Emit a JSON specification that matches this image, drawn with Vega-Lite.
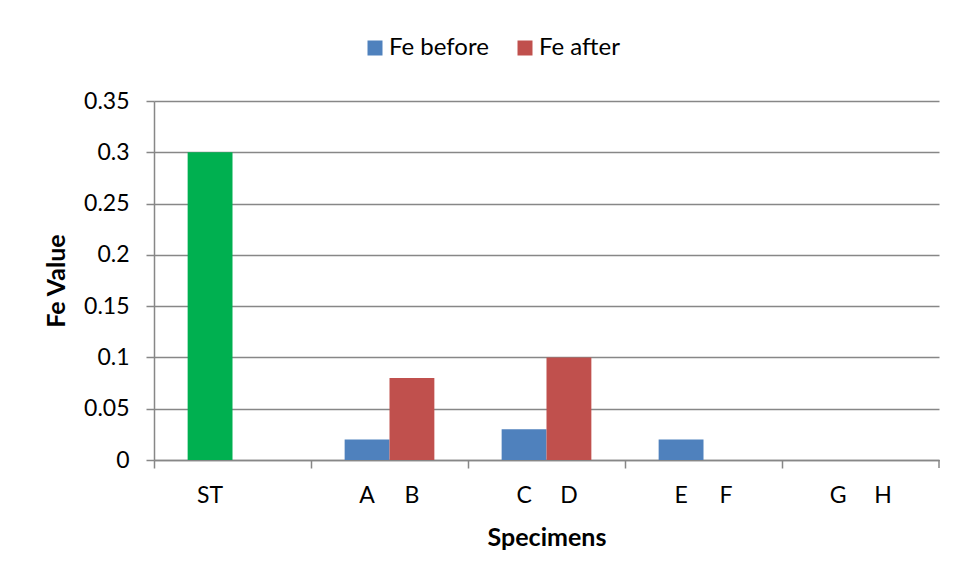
{
  "$schema": "https://vega.github.io/schema/vega-lite/v6.json",
  "autosize": {"type": "none"},
  "width": 785,
  "height": 359,
  "padding": {"left": 154, "top": 101, "right": 19, "bottom": 116},
  "background": "white",
  "config": {
    "font": "Lato",
    "view": {"stroke": null},
    "axis": {"labelFont": "Lato", "titleFont": "Lato", "labelColor": "black", "titleColor": "black"}
  },
  "data": {
    "values": [
      {"group": "ST", "series": "Fe before", "label": "ST", "value": 0.3},
      {"group": "AB", "series": "Fe before", "label": "A", "value": 0.02},
      {"group": "AB", "series": "Fe after", "label": "B", "value": 0.08},
      {"group": "CD", "series": "Fe before", "label": "C", "value": 0.03},
      {"group": "CD", "series": "Fe after", "label": "D", "value": 0.1},
      {"group": "EF", "series": "Fe before", "label": "E", "value": 0.02},
      {"group": "EF", "series": "Fe after", "label": "F", "value": 0},
      {"group": "GH", "series": "Fe before", "label": "G", "value": 0},
      {"group": "GH", "series": "Fe after", "label": "H", "value": 0}
    ]
  },
  "encoding": {
    "x": {
      "field": "group",
      "type": "nominal",
      "sort": ["ST", "AB", "CD", "EF", "GH"],
      "scale": {"paddingInner": 0, "paddingOuter": 0},
      "axis": {
        "title": "Specimens",
        "titleFontSize": 25,
        "titleFontWeight": "bold",
        "titlePadding": 57,
        "labels": false,
        "ticks": true,
        "bandPosition": 0,
        "tickSize": 8,
        "tickColor": "#878787",
        "domainColor": "#878787",
        "tickWidth": 1.5,
        "domainWidth": 1.5
      }
    }
  },
  "layer": [
    {
      "mark": {"type": "bar"},
      "encoding": {
        "xOffset": {
          "field": "series",
          "type": "nominal",
          "sort": ["Fe before", "Fe after"],
          "scale": {"paddingOuter": 0.75, "paddingInner": 0}
        },
        "y": {
          "field": "value",
          "type": "quantitative",
          "scale": {"domain": [0, 0.35], "nice": false, "zero": true},
          "axis": {
            "title": "Fe Value",
            "titleFontSize": 25,
            "titleFontWeight": "bold",
            "titlePadding": 14,
            "values": [0, 0.05, 0.1, 0.15, 0.2, 0.25, 0.3, 0.35],
            "format": "~g",
            "labelFontSize": 23,
            "labelPadding": 17,
            "tickSize": 8,
            "tickColor": "#878787",
            "domainColor": "#878787",
            "gridColor": "#878787",
            "grid": true,
            "tickWidth": 1.5,
            "domainWidth": 1.5,
            "gridWidth": 1.5
          }
        },
        "color": {
          "field": "series",
          "type": "nominal",
          "scale": {"domain": ["Fe before", "Fe after"], "range": ["#4F81BD", "#C0504D"]},
          "condition": {"test": "datum.group === 'ST'", "value": "#00B050"},
          "legend": {
            "title": null,
            "orient": "none",
            "legendX": 209,
            "legendY": -65,
            "direction": "horizontal",
            "symbolType": "square",
            "symbolSize": 225,
            "symbolStrokeWidth": 0,
            "symbolOpacity": 1,
            "labelFontSize": 24,
            "labelFont": "Lato",
            "labelColor": "black",
            "labelOffset": 2,
            "columnPadding": 24
          }
        }
      }
    },
    {
      "mark": {"type": "text", "fontSize": 23, "font": "Lato", "color": "black", "baseline": "alphabetic", "dy": 43},
      "encoding": {
        "xOffset": {
          "field": "series",
          "type": "nominal",
          "sort": ["Fe before", "Fe after"],
          "scale": {"paddingOuter": 0.75, "paddingInner": 0}
        },
        "y": {"datum": 0},
        "text": {"field": "label", "type": "nominal"}
      }
    },
    {
      "transform": [{"filter": "datum.label === 'H'"}],
      "mark": {"type": "rule", "color": "#878787", "strokeWidth": 1.5},
      "encoding": {
        "x": {"datum": "GH", "bandPosition": 1},
        "y": {"datum": 0},
        "y2": {"datum": -0.0078}
      }
    }
  ]
}
